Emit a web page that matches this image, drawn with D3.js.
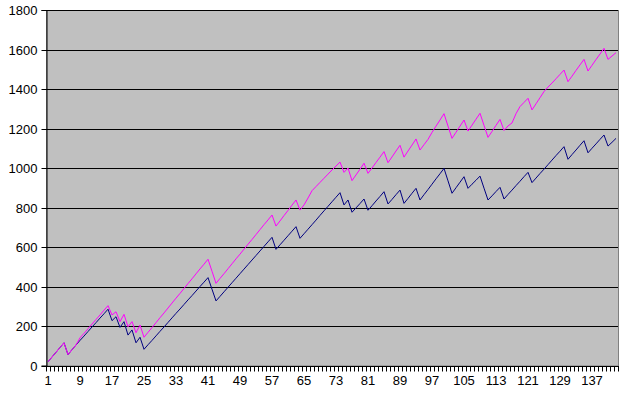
<!DOCTYPE html>
<html>
<head>
<meta charset="utf-8">
<script src="https://cdn.jsdelivr.net/npm/d3@7/dist/d3.min.js"></script>
<style>
  html, body { margin: 0; padding: 0; background: #ffffff; }
  svg { display: block; }
  text { font-family: "Liberation Sans", Arial, sans-serif; font-size: 13px; fill: #000; }
</style>
</head>
<body>
<svg id="chart" width="625" height="393"></svg>
<script>
// ---- data ----
const categories = d3.range(1, 144); // category labels 1..143
const tickLabels = [1, 9, 17, 25, 33, 41, 49, 57, 65, 73, 81, 89, 97, 105, 113, 121, 129, 137];
const yTicks = [0, 200, 400, 600, 800, 1000, 1200, 1400, 1600, 1800];

const navySeries = [
  19, 43, 67, 91, 115, 55, 80, 104,
  127, 149, 172, 195, 217, 240, 262, 285,
  227, 247, 193, 222, 154, 180, 115, 143, 82,
  105, 127, 150, 173, 195, 218, 241, 264, 286, 309, 332, 354, 377, 400, 422, 445,
  386, 327,
  350, 373, 396, 419, 442, 465, 488, 511, 534, 557, 580, 603, 626, 649,
  588, 611, 634, 657, 680, 703,
  644, 667, 690, 713, 736, 760, 783, 806, 829, 852, 875,
  813, 838, 776, 798, 820, 843,
  786, 809, 833, 856, 880,
  818, 841, 865, 888,
  821, 846, 872, 897,
  838, 865, 891, 918, 945, 971, 998,
  935, 872, 900, 928, 956,
  897, 918, 938, 959,
  898, 838, 859, 881, 902,
  843, 866, 888, 911, 933, 956, 978,
  926, 949, 972, 994, 1017, 1040, 1063, 1085, 1108,
  1044, 1068, 1091, 1115, 1138,
  1077, 1100, 1122, 1145, 1167,
  1111, 1130, 1150
];

const magentaSeries = [
  19, 43, 67, 91, 115, 55, 80, 104,
  140, 163, 186, 210, 233, 256, 280, 303,
  256, 272, 222, 259, 196, 222, 166, 205, 143,
  168, 192, 217, 242, 266, 291, 316, 341, 365, 390, 415, 439, 464, 489, 513, 538,
  477, 416,
  441, 465, 490, 515, 540, 564, 589, 614, 638, 663, 688, 713, 737, 762,
  706, 732, 759, 785, 812, 838,
  787, 813, 848, 885, 906, 927, 948, 969, 990, 1010, 1030,
  978, 1000, 936, 965, 994, 1024,
  973, 1000, 1028, 1055, 1083,
  1027, 1056, 1086, 1115,
  1055, 1086, 1116, 1147,
  1091, 1118, 1145, 1180, 1212, 1243, 1275,
  1212, 1150, 1181, 1212, 1243,
  1187, 1217, 1247, 1277,
  1216, 1155, 1185, 1216, 1246,
  1190, 1213, 1228, 1275, 1311, 1332, 1353,
  1294, 1325, 1356, 1387, 1410, 1430, 1452, 1474, 1496,
  1437, 1465, 1494, 1522, 1550,
  1491, 1520, 1549, 1577, 1606,
  1550, 1567, 1584
];

// ---- layout ----
const plot = { left: 46, right: 618, top: 10, bottom: 365.5 };
const svg = d3.select("#chart");

const x = d3.scaleBand().domain(categories).range([plot.left, plot.right]).padding(0);
const y = d3.scaleLinear().domain([0, 1800]).range([plot.bottom, plot.top]);
const cx = c => x(c) + x.bandwidth() / 2;
const snap = v => Math.round(v) + 0.5;

// plot area
svg.append("rect")
  .attr("x", plot.left + 0.5).attr("y", plot.top + 0.5)
  .attr("width", plot.right - plot.left).attr("height", plot.bottom - plot.top)
  .attr("fill", "#C0C0C0").attr("stroke", "#808080").attr("stroke-width", 1);

// gridlines
svg.append("g").selectAll("line").data(yTicks.filter(d => d > 0)).join("line")
  .attr("x1", plot.left).attr("x2", plot.right)
  .attr("y1", d => snap(y(d))).attr("y2", d => snap(y(d)))
  .attr("stroke", "#000").attr("stroke-width", 1);

// y axis
const yAxis = d3.axisLeft(y).tickValues(yTicks).tickSize(5).tickPadding(4).tickFormat(d3.format("d"));
const gy = svg.append("g").attr("transform", `translate(${plot.left + 0.5},0)`).call(yAxis);
gy.select(".domain").attr("stroke", "#000");
gy.selectAll(".tick").attr("transform", d => `translate(0,${snap(y(d))})`);
gy.selectAll(".tick line").attr("stroke", "#000");
gy.selectAll("text").style("font-family", '"Liberation Sans", Arial, sans-serif').style("font-size", "13px").attr("fill", "#000");

// x axis baseline
svg.append("line")
  .attr("x1", plot.left).attr("x2", plot.right + 1)
  .attr("y1", snap(plot.bottom)).attr("y2", snap(plot.bottom))
  .attr("stroke", "#000");

// x tick marks at category boundaries
const boundaries = categories.map(c => x(c)).concat([x(categories[categories.length - 1]) + x.step()]);
svg.append("g").selectAll("line").data(boundaries).join("line")
  .attr("x1", d => snap(d) - 0).attr("x2", d => snap(d))
  .attr("y1", snap(plot.bottom)).attr("y2", snap(plot.bottom) + 5)
  .attr("stroke", "#000");

// x labels
const xAxis = d3.axisBottom(x).tickValues(tickLabels).tickSize(0).tickPadding(0);
const gx = svg.append("g").attr("transform", `translate(0,${plot.bottom + 10})`).call(xAxis);
gx.select(".domain").remove();
gx.selectAll("text").attr("dy", "0.71em").style("font-family", '"Liberation Sans", Arial, sans-serif').style("font-size", "13px").attr("fill", "#000");

// lines
const line = d3.line().x((d, i) => cx(categories[i])).y(d => y(d));
svg.append("path").datum(navySeries).attr("d", line)
  .attr("fill", "none").attr("stroke", "#000080").attr("stroke-width", 1);
svg.append("path").datum(magentaSeries).attr("d", line)
  .attr("fill", "none").attr("stroke", "#FF00FF").attr("stroke-width", 1);
</script>
</body>
</html>
